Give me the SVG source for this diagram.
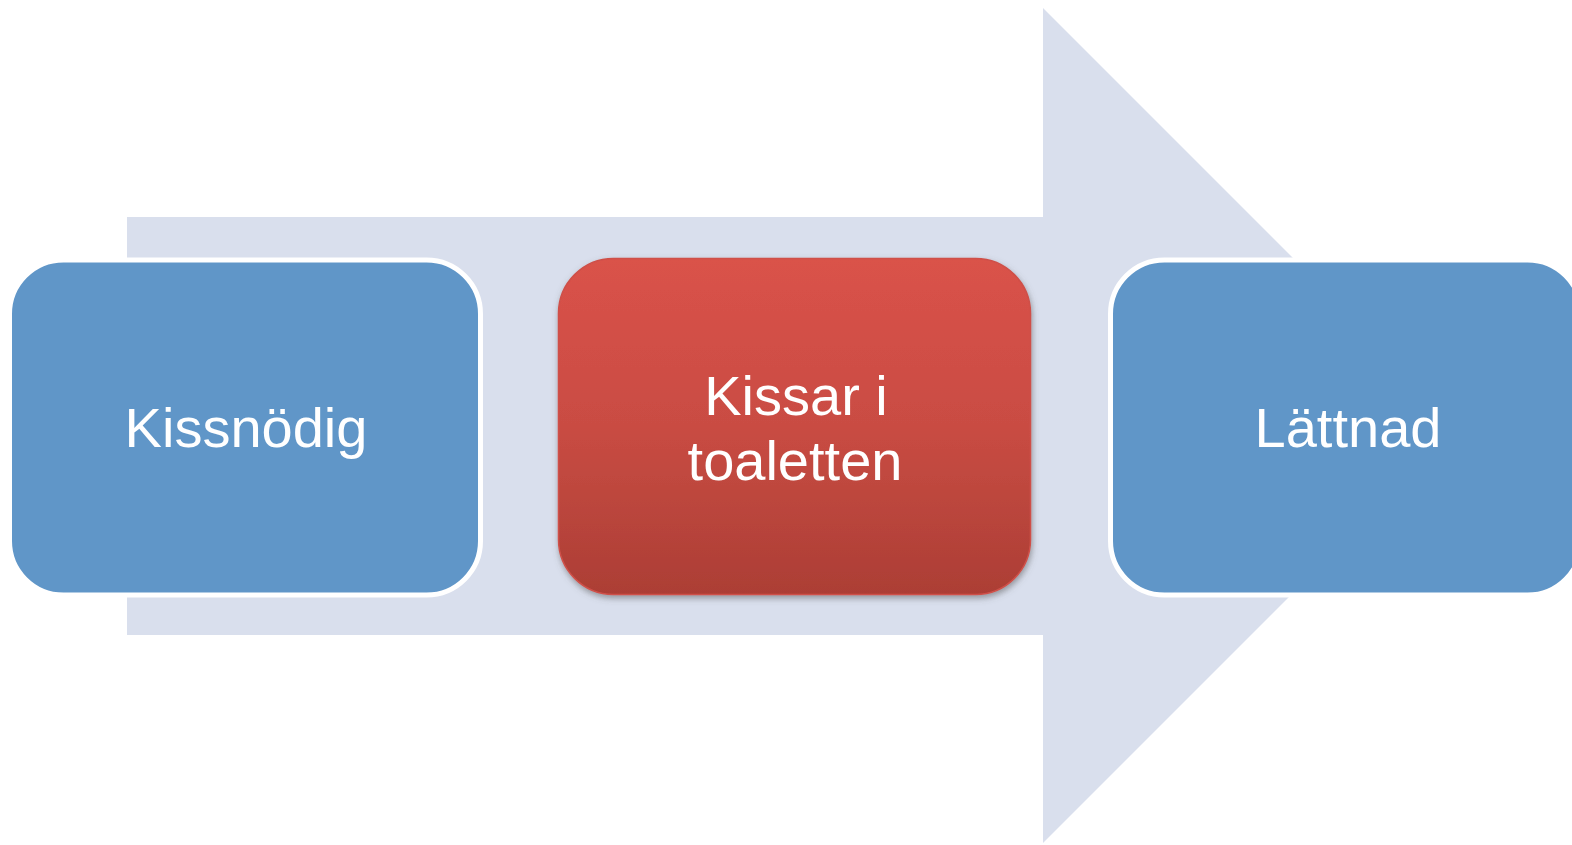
<svg xmlns="http://www.w3.org/2000/svg" width="1572" height="845" viewBox="0 0 1572 845">
<style>
.box{fill:#6096c8;stroke:#ffffff;stroke-width:5}
.lbl{fill:#ffffff;font-family:"Liberation Sans",Arial,sans-serif;font-size:56px;text-anchor:middle}
</style>
<defs>
<linearGradient id="red" x1="0" y1="0" x2="0" y2="1">
<stop offset="0" stop-color="#da5249"/>
<stop offset="0.5" stop-color="#c94c43"/>
<stop offset="1" stop-color="#ac3e35"/>
</linearGradient>
<filter id="sh" x="-10%" y="-10%" width="120%" height="125%">
<feDropShadow dx="1" dy="3" stdDeviation="3" flood-color="#555555" flood-opacity="0.55"/>
</filter>
</defs>
<rect width="1572" height="845" fill="#ffffff"/>
<g id="arrow">
<polygon points="127,217 1043,217 1043,8 1460.5,425.5 1043,843 1043,635 127,635" fill="#d9dfed"/>
</g>
<g id="node1">
<rect class="box" x="9.5" y="260" width="471" height="335" rx="54"/>
<text class="lbl" x="246" y="447">Kissnödig</text>
</g>
<g id="node2">
<rect x="558.5" y="258.5" width="472" height="336" rx="55" fill="url(#red)" stroke="#cf5048" stroke-width="1.5" filter="url(#sh)"/>
<text class="lbl" x="796" y="415">Kissar i</text>
<text class="lbl" x="795" y="480">toaletten</text>
</g>
<g id="node3">
<rect class="box" x="1110.5" y="260" width="471" height="335" rx="54"/>
<text class="lbl" x="1348" y="447">Lättnad</text>
</g>
</svg>
